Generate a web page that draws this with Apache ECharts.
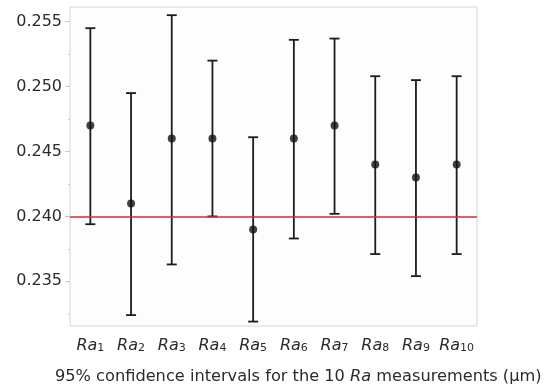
<!DOCTYPE html>
<html>
<head>
<meta charset="utf-8">
<script src="https://cdn.jsdelivr.net/npm/echarts@6/dist/echarts.min.js"></script>
<style>
html,body{margin:0;padding:0;background:#fff;}
#main{width:549px;height:387px;}
</style>
</head>
<body>
<div id="main"></div>
<script>
// Ra1..Ra10
var categories = ['1', '2', '3', '4', '5', '6', '7', '8', '9', '10'];
var means = [0.247, 0.241, 0.246, 0.246, 0.239, 0.246, 0.247, 0.244, 0.243, 0.244];
var lower = [0.2394, 0.2324, 0.2363, 0.2400, 0.2319, 0.2383, 0.2402, 0.2371, 0.2354, 0.2371];
var upper = [0.2545, 0.2495, 0.2555, 0.2520, 0.2461, 0.2536, 0.2537, 0.2508, 0.2505, 0.2508];
var yTicks = [0.235, 0.240, 0.245, 0.250, 0.255];
var yMinorTicks = [0.2325, 0.2375, 0.2425, 0.2475, 0.2525];
var refValue = 0.240;

var FONT = 'DejaVu Sans';
var TXT = '#2b2b2b';
var chart = echarts.init(document.getElementById('main'));

var errData = categories.map(function (c, i) { return [i, lower[i], upper[i]]; });

chart.setOption({
  animation: false,
  textStyle: { fontFamily: FONT },
  title: {
    text: '95% confidence intervals for the 10 {i|Ra} measurements (μm)',
    left: 50,
    top: 364,
    textStyle: {
      fontFamily: FONT, fontSize: 16.2, fontWeight: 'normal', color: TXT,
      rich: { i: { fontFamily: FONT, fontSize: 16.2, fontStyle: 'italic', color: TXT } }
    }
  },
  grid: {
    show: true,
    left: 70, right: 72, top: 7, bottom: 61,
    backgroundColor: '#fdfdfd',
    borderColor: '#d6d6d6',
    borderWidth: 1
  },
  xAxis: {
    type: 'category',
    data: categories,
    boundaryGap: true,
    axisLine: { show: false },
    axisTick: { show: false },
    splitLine: { show: false },
    axisLabel: {
      interval: 0,
      margin: 12,
      formatter: function (v) { return '{i|Ra}{s|' + v + '}'; },
      rich: {
        i: { fontFamily: FONT, fontSize: 16, fontStyle: 'italic', color: TXT },
        s: { fontFamily: FONT, fontSize: 11, color: TXT, padding: [4, 0, 0, 0] }
      }
    }
  },
  yAxis: [{
    type: 'value',
    min: 0.23156,
    max: 0.25613,
    axisLine: { show: false },
    splitLine: { show: false },
    axisTick: { show: true, length: 5, lineStyle: { color: '#c8c8c8' }, customValues: yTicks },
    axisLabel: {
      fontFamily: FONT, fontSize: 16, color: TXT, margin: 8,
      customValues: yTicks,
      formatter: function (v) { return v.toFixed(3); }
    }
  }, {
    type: 'value',
    position: 'left',
    min: 0.23156,
    max: 0.25613,
    axisLine: { show: false },
    splitLine: { show: false },
    axisLabel: { show: false, customValues: yMinorTicks },
    axisTick: { show: true, length: 2, lineStyle: { color: '#d0d0d0' }, customValues: yMinorTicks }
  }],
  series: [{
    type: 'line',
    data: [],
    markLine: {
      silent: true,
      symbol: 'none',
      label: { show: false },
      lineStyle: { color: '#d9282d', width: 1.5, type: 'solid' },
      data: [{ yAxis: refValue }]
    }
  }, {
    type: 'custom',
    z: 3,
    renderItem: function (params, api) {
      var i = api.value(0);
      var lo = api.coord([i, api.value(1)]);
      var hi = api.coord([i, api.value(2)]);
      var half = 5;
      var st = { stroke: '#1c1c1c', lineWidth: 1.8 };
      return {
        type: 'group',
        children: [
          { type: 'line', shape: { x1: hi[0], y1: hi[1], x2: lo[0], y2: lo[1] }, style: st },
          { type: 'line', shape: { x1: hi[0] - half, y1: hi[1], x2: hi[0] + half, y2: hi[1] }, style: st },
          { type: 'line', shape: { x1: lo[0] - half, y1: lo[1], x2: lo[0] + half, y2: lo[1] }, style: st }
        ]
      };
    },
    encode: { x: 0, y: [1, 2] },
    data: errData
  }, {
    type: 'scatter',
    z: 4,
    symbol: 'circle',
    symbolSize: 8,
    itemStyle: { color: '#111' },
    data: means
  }]
});
</script>
</body>
</html>
